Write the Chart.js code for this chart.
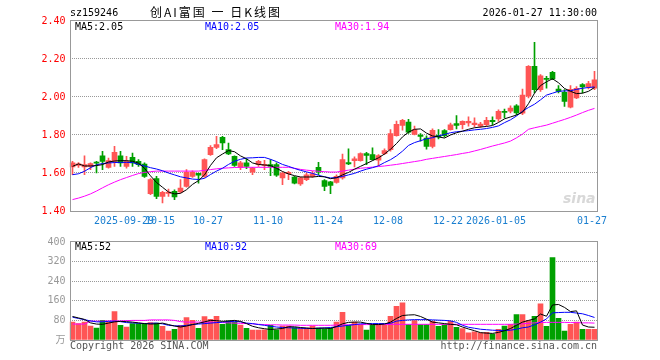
<!DOCTYPE html>
<html>
<head>
<meta charset="utf-8">
<script src="https://cdn.jsdelivr.net/npm/chart.js@4.4.1/dist/chart.umd.min.js"></script>
<style>
  body { margin: 0; background: #fff; }
  #wrap { position: relative; width: 660px; height: 360px; overflow: hidden;
          font-family: "DejaVu Sans Mono", monospace; font-size: 10px; }
  canvas { position: absolute; left: 0; }
  .t { position: absolute; white-space: pre; line-height: 12px; }
</style>
</head>
<body>
<div id="wrap">
  <canvas id="kline" width="660" height="232" style="top:0"></canvas>
  <canvas id="vol" width="660" height="128" style="top:232px"></canvas>

  <div class="t" style="left:70px;top:7px;color:#000">sz159246</div>
  <div class="t" style="left:150px;top:5px;font:12px/14px 'Noto Sans CJK SC';letter-spacing:2px;color:#000">创AI富国 一 日K线图</div>
  <div class="t" style="right:63px;top:7px;color:#000">2026-01-27 11:30:00</div>

  <div class="t" id="lgK5" style="left:75px;top:21px;color:#000"></div>
  <div class="t" id="lgK10" style="left:205px;top:21px;color:#0000ff"></div>
  <div class="t" id="lgK30" style="left:335px;top:21px;color:#ff00ff"></div>

  <div class="t" id="lgV5" style="left:75px;top:241px;color:#000"></div>
  <div class="t" id="lgV10" style="left:205px;top:241px;color:#0000ff"></div>
  <div class="t" id="lgV30" style="left:335px;top:241px;color:#ff00ff"></div>

  <div class="t" style="left:563px;top:191px;font:italic bold 14px/14px 'DejaVu Sans';color:#d8d8d8">sina</div>

  <div class="t" style="left:70px;top:340px;color:#555">Copyright 2026 SINA.COM</div>
  <div class="t" style="right:63px;top:340px;color:#555">http://finance.sina.com.cn</div>
</div>

<script>
// trading days shown on the chart
const dates = [
  '2025-09-16','2025-09-17','2025-09-18','2025-09-19','2025-09-22','2025-09-23','2025-09-24','2025-09-25','2025-09-26','2025-09-29',
  '2025-09-30','2025-10-09','2025-10-10','2025-10-13','2025-10-14','2025-10-15','2025-10-16','2025-10-17','2025-10-20','2025-10-21',
  '2025-10-22','2025-10-23','2025-10-24','2025-10-27','2025-10-28','2025-10-29','2025-10-30','2025-10-31','2025-11-03','2025-11-04',
  '2025-11-05','2025-11-06','2025-11-07','2025-11-10','2025-11-11','2025-11-12','2025-11-13','2025-11-14','2025-11-17','2025-11-18',
  '2025-11-19','2025-11-20','2025-11-21','2025-11-24','2025-11-25','2025-11-26','2025-11-27','2025-11-28','2025-12-01','2025-12-02',
  '2025-12-03','2025-12-04','2025-12-05','2025-12-08','2025-12-09','2025-12-10','2025-12-11','2025-12-12','2025-12-15','2025-12-16',
  '2025-12-17','2025-12-18','2025-12-19','2025-12-22','2025-12-23','2025-12-24','2025-12-25','2025-12-26','2025-12-29','2025-12-30',
  '2025-12-31','2026-01-05','2026-01-06','2026-01-07','2026-01-08','2026-01-09','2026-01-12','2026-01-13','2026-01-14','2026-01-15',
  '2026-01-16','2026-01-19','2026-01-20','2026-01-21','2026-01-22','2026-01-23','2026-01-26','2026-01-27'
];

const opens = [
  1.632,1.640,1.632,1.635,1.658,1.691,1.630,1.661,1.691,1.635,
  1.682,1.661,1.647,1.491,1.570,1.477,1.493,1.503,1.500,1.530,
  1.582,1.598,1.582,1.696,1.735,1.788,1.723,1.688,1.630,1.653,
  1.604,1.644,1.640,1.644,1.644,1.574,1.596,1.579,1.542,1.565,
  1.582,1.630,1.560,1.553,1.551,1.574,1.655,1.665,1.665,1.702,
  1.697,1.667,1.702,1.723,1.797,1.850,1.868,1.803,1.800,1.784,
  1.740,1.798,1.823,1.828,1.860,1.854,1.863,1.854,1.846,1.854,
  1.877,1.884,1.925,1.925,1.954,1.915,2.004,2.161,2.039,2.096,
  2.130,2.042,2.025,1.947,1.995,2.065,2.053,2.047
];
const highs = [
  1.661,1.655,1.691,1.653,1.661,1.714,1.679,1.740,1.714,1.688,
  1.705,1.670,1.653,1.570,1.582,1.503,1.516,1.512,1.565,1.618,
  1.612,1.600,1.675,1.744,1.793,1.793,1.758,1.691,1.661,1.674,
  1.630,1.667,1.667,1.670,1.653,1.605,1.609,1.582,1.579,1.600,
  1.609,1.656,1.565,1.556,1.591,1.700,1.727,1.685,1.706,1.709,
  1.732,1.697,1.727,1.829,1.873,1.882,1.882,1.847,1.807,1.796,
  1.832,1.828,1.828,1.863,1.902,1.875,1.895,1.890,1.867,1.893,
  1.895,1.933,1.937,1.954,1.960,2.042,2.165,2.288,2.118,2.109,
  2.135,2.060,2.039,2.060,2.055,2.070,2.082,2.135
];
const lows = [
  1.591,1.630,1.591,1.618,1.600,1.618,1.626,1.635,1.635,1.626,
  1.635,1.635,1.577,1.486,1.465,1.442,1.477,1.460,1.495,1.525,
  1.577,1.547,1.577,1.693,1.728,1.723,1.696,1.635,1.618,1.623,
  1.591,1.635,1.618,1.586,1.582,1.539,1.565,1.542,1.535,1.560,
  1.577,1.591,1.507,1.491,1.547,1.568,1.644,1.632,1.662,1.644,
  1.667,1.639,1.697,1.715,1.794,1.826,1.808,1.800,1.767,1.726,
  1.732,1.779,1.789,1.825,1.832,1.832,1.846,1.842,1.840,1.846,
  1.854,1.872,1.890,1.916,1.907,1.907,1.995,2.021,2.030,2.047,
  2.091,2.021,1.951,1.942,1.991,2.021,2.042,2.039
];
const closes = [
  1.653,1.648,1.644,1.649,1.652,1.661,1.665,1.709,1.653,1.661,
  1.653,1.644,1.582,1.565,1.477,1.498,1.500,1.474,1.521,1.605,
  1.605,1.588,1.670,1.735,1.749,1.758,1.700,1.640,1.653,1.635,
  1.626,1.661,1.645,1.635,1.588,1.600,1.603,1.547,1.574,1.591,
  1.595,1.605,1.530,1.535,1.582,1.670,1.648,1.674,1.702,1.692,
  1.670,1.692,1.718,1.808,1.856,1.877,1.815,1.829,1.793,1.740,
  1.825,1.790,1.796,1.854,1.851,1.872,1.872,1.863,1.858,1.877,
  1.870,1.925,1.919,1.942,1.916,2.010,2.161,2.039,2.112,2.093,
  2.095,2.030,1.977,2.040,2.045,2.053,2.070,2.090
];

const ma5 = [
  1.635,1.648,1.637,1.637,1.639,1.644,1.658,1.663,1.665,1.665,
  1.662,1.652,1.625,1.585,1.550,1.525,1.500,1.490,1.493,1.512,
  1.540,1.560,1.590,1.640,1.680,1.700,1.718,1.712,1.690,1.675,
  1.653,1.645,1.642,1.639,1.625,1.608,1.595,1.586,1.579,1.579,
  1.579,1.582,1.580,1.570,1.575,1.590,1.603,1.620,1.635,1.650,
  1.665,1.680,1.700,1.725,1.755,1.790,1.815,1.830,1.832,1.810,
  1.795,1.790,1.784,1.800,1.812,1.820,1.830,1.838,1.842,1.845,
  1.850,1.866,1.885,1.895,1.905,1.920,1.965,2.020,2.060,2.080,
  2.096,2.075,2.045,2.030,2.018,2.020,2.030,2.050
];
const ma10 = [
  1.591,1.596,1.609,1.628,1.643,1.650,1.653,1.655,1.656,1.656,
  1.655,1.645,1.637,1.628,1.621,1.612,1.600,1.590,1.580,1.574,
  1.568,1.566,1.572,1.592,1.610,1.625,1.645,1.662,1.672,1.679,
  1.680,1.682,1.682,1.672,1.660,1.645,1.635,1.624,1.614,1.606,
  1.598,1.588,1.580,1.574,1.576,1.582,1.590,1.598,1.610,1.620,
  1.628,1.638,1.655,1.670,1.690,1.715,1.745,1.760,1.770,1.780,
  1.786,1.795,1.803,1.812,1.817,1.820,1.823,1.827,1.830,1.834,
  1.840,1.848,1.865,1.880,1.900,1.925,1.945,1.962,1.985,2.010,
  2.020,2.030,2.032,2.033,2.040,2.046,2.050,2.053
];
const ma30 = [
  1.460,1.468,1.478,1.490,1.505,1.522,1.538,1.552,1.565,1.576,
  1.587,1.597,1.603,1.607,1.610,1.610,1.610,1.610,1.610,1.610,
  1.610,1.610,1.614,1.618,1.622,1.625,1.627,1.629,1.630,1.630,
  1.630,1.630,1.630,1.630,1.630,1.630,1.630,1.625,1.619,1.615,
  1.612,1.609,1.607,1.605,1.605,1.610,1.615,1.620,1.625,1.628,
  1.631,1.634,1.637,1.641,1.645,1.650,1.655,1.660,1.665,1.672,
  1.677,1.682,1.687,1.692,1.697,1.703,1.708,1.716,1.724,1.733,
  1.742,1.750,1.758,1.768,1.785,1.805,1.830,1.838,1.845,1.852,
  1.862,1.872,1.882,1.893,1.905,1.918,1.930,1.940
];

// volume, in 10k lots
const volumes = [
   73, 67, 73, 57, 49, 80, 73,116, 60, 53,
   67, 67, 67, 71, 69, 56, 36, 44, 60, 92,
   80, 48, 96, 84, 97, 64, 77, 73, 61, 48,
   40, 40, 42, 60, 42, 57, 57, 51, 49, 49,
   57, 49, 47, 49, 73,113, 60, 73, 63, 40,
   60, 63, 60, 97,137,152, 63, 79, 63, 63,
   76, 56, 63, 76, 52, 47, 29, 33, 29, 31,
   24, 44, 57, 64,104,104, 79, 97,148, 56,
  336, 88, 36, 64, 73, 44, 44, 44
];
const volMa5 = [
   96, 90, 84, 70, 65, 64, 69, 74, 76, 75,
   73, 70, 67, 65, 66, 69, 63, 57, 53, 57,
   63, 68, 74, 80, 79, 76, 78, 80, 76, 67,
   56, 50, 46, 43, 45, 47, 54, 54, 51, 49,
   47, 48, 49, 47, 55, 66, 72, 73, 73, 68,
   63, 63, 65, 73, 88,100,102,103, 96, 85,
   73, 70, 67, 64, 62, 53, 45, 38, 30, 28,
   27, 31, 38, 47, 60, 73, 80, 86,106, 97,
  143,145,133,116,119, 61, 53, 52
];
const volMa10 = [
   93, 88, 83, 78, 74, 74, 76, 77, 75, 71,
   70, 68, 67, 68, 69, 66, 60, 58, 57, 60,
   63, 65, 67, 69, 71, 73, 75, 76, 74, 69,
   67, 63, 60, 56, 53, 51, 50, 49, 48, 47,
   47, 48, 49, 51, 54, 57, 60, 63, 66, 67,
   67, 67, 67, 68, 77, 80, 82, 83, 83, 83,
   82, 81, 80, 78, 72, 60, 52, 48, 44, 42,
   40, 39, 39, 40, 44, 50, 53, 62, 73, 86,
  111,112,113,113,110,107,100, 92
];
const volMa30 = [
   65, 65, 65, 77, 77, 77, 78, 78, 78, 79,
   80, 80, 80, 82, 82, 82, 82, 80, 75, 73,
   73, 73, 73, 73, 72, 71, 70, 69, 68, 67,
   66, 64, 63, 62, 62, 61, 61, 61, 60, 60,
   60, 60, 60, 60, 61, 62, 62, 63, 63, 63,
   63, 63, 63, 64, 64, 64, 64, 64, 64, 64,
   64, 64, 64, 64, 64, 64, 64, 64, 64, 64,
   64, 64, 64, 64, 65, 66, 68, 70, 71, 72,
   72, 72, 72, 71, 71, 70, 70, 69
];

// x axis ticks
const tickDates  = ['2025-09-29','2025-10-15','2025-10-27','2025-11-10','2025-11-24','2025-12-08','2025-12-22','2026-01-05','2026-01-27'];
const tickLabels = ['2025-09-29','10-15','10-27','11-10','11-24','12-08','12-22','2026-01-05','01-27'];

const priceTicks = [1.40, 1.60, 1.80, 2.00, 2.20, 2.40];
const volTicks = [0, 80, 160, 240, 320, 400];

const RED = '#ff5555';
const GREEN = '#00a000';
const MONO = '"DejaVu Sans Mono", "Noto Sans CJK SC", monospace';

const barColors = closes.map((c, i) => (c >= opens[i] ? RED : GREEN));

document.getElementById('lgK5').textContent = 'MA5:' + ma5[ma5.length - 1].toFixed(2);
document.getElementById('lgK10').textContent = 'MA10:' + ma10[ma10.length - 1].toFixed(2);
document.getElementById('lgK30').textContent = 'MA30:' + ma30[ma30.length - 1].toFixed(2);
document.getElementById('lgV5').textContent = 'MA5:' + volMa5[volMa5.length - 1];
document.getElementById('lgV10').textContent = 'MA10:' + volMa10[volMa10.length - 1];
document.getElementById('lgV30').textContent = 'MA30:' + volMa30[volMa30.length - 1];

// grey frame round the plot area
const frame = {
  id: 'frame',
  afterDraw(chart) {
    const a = chart.chartArea;
    const c = chart.ctx;
    c.save();
    c.strokeStyle = '#999';
    c.lineWidth = 1;
    c.strokeRect(Math.round(a.left) + 0.5, Math.round(a.top) - 0.5,
                 Math.round(a.right) - Math.round(a.left) - 1, Math.round(a.bottom) - Math.round(a.top) + 1);
    c.restore();
  }
};

const isTick = (i) => tickDates.indexOf(dates[i]) >= 0;

const xScale = (showLabels, h) => ({
  offset: true,
  grid: {
    offset: true,
    drawTicks: false,
    color: (ctx) => (ctx.index < dates.length && isTick(ctx.index) ? '#aaa' : 'transparent')
  },
  border: { display: false, dash: [5, 3] },
  ticks: {
    display: showLabels,
    autoSkip: false,
    maxRotation: 0,
    padding: 4,
    labelOffset: -2.5,
    color: '#1a7fd0',
    font: { family: MONO, size: 10 },
    callback: (v, i) => {
      const t = tickDates.indexOf(dates[i]);
      return t >= 0 ? tickLabels[t] : null;
    }
  },
  afterFit: (s) => { s.height = h; }
});

const lineSet = (data, color) => ({
  type: 'line', data: data, borderColor: color, borderWidth: 1,
  pointRadius: 0, tension: 0, order: 0
});

new Chart(document.getElementById('kline'), {
  type: 'bar',
  data: {
    labels: dates,
    datasets: [
      lineSet(ma5, '#000000'),
      lineSet(ma10, '#0000ff'),
      lineSet(ma30, '#ff00ff'),
      { data: opens.map((o, i) => [o, closes[i]]), backgroundColor: barColors,
        barThickness: 5, minBarLength: 1, grouped: false, order: 1 },
      { data: lows.map((l, i) => [l, highs[i]]), backgroundColor: barColors,
        barThickness: 1, grouped: false, order: 2 }
    ]
  },
  options: {
    responsive: false,
    animation: false,
    devicePixelRatio: 1,
    layout: { padding: { left: 0, right: 62.5, top: 21, bottom: 0 } },
    plugins: { legend: { display: false }, tooltip: { enabled: false } },
    scales: {
      x: xScale(true, 21),
      y: {
        min: 1.4, max: 2.4,
        afterBuildTicks: (s) => { s.ticks = priceTicks.map((v) => ({ value: v })); },
        grid: {
          drawTicks: false,
          color: (ctx) => (ctx.tick && ctx.tick.value > 1.41 && ctx.tick.value < 2.39 ? '#999' : 'transparent')
        },
        border: { display: false, dash: [1, 1] },
        ticks: {
          padding: 4, color: '#ff0000',
          font: { family: MONO, size: 10 },
          callback: (v) => Number(v).toFixed(2)
        },
        afterFit: (s) => { s.width = 69.5; }
      }
    }
  },
  plugins: [frame]
});

new Chart(document.getElementById('vol'), {
  type: 'bar',
  data: {
    labels: dates,
    datasets: [
      lineSet(volMa5, '#000000'),
      lineSet(volMa10, '#0000ff'),
      lineSet(volMa30, '#ff00ff'),
      { data: volumes, backgroundColor: barColors, barThickness: 5, grouped: false, order: 1 }
    ]
  },
  options: {
    responsive: false,
    animation: false,
    devicePixelRatio: 1,
    layout: { padding: { left: 0, right: 62.5, top: 8, bottom: 0 } },
    plugins: { legend: { display: false }, tooltip: { enabled: false } },
    scales: {
      x: xScale(false, 20),
      y: {
        min: 0, max: 400,
        afterBuildTicks: (s) => { s.ticks = volTicks.map((v) => ({ value: v })); },
        grid: {
          drawTicks: false,
          color: (ctx) => (ctx.tick && ctx.tick.value > 0 && ctx.tick.value < 400 ? '#999' : 'transparent')
        },
        border: { display: false, dash: [1, 1] },
        ticks: {
          padding: 4, color: '#999',
          font: { family: MONO, size: 10 },
          callback: (v) => (v === 0 ? '万' : String(v))
        },
        afterFit: (s) => { s.width = 69.5; }
      }
    }
  },
  plugins: [frame]
});
</script>
</body>
</html>
